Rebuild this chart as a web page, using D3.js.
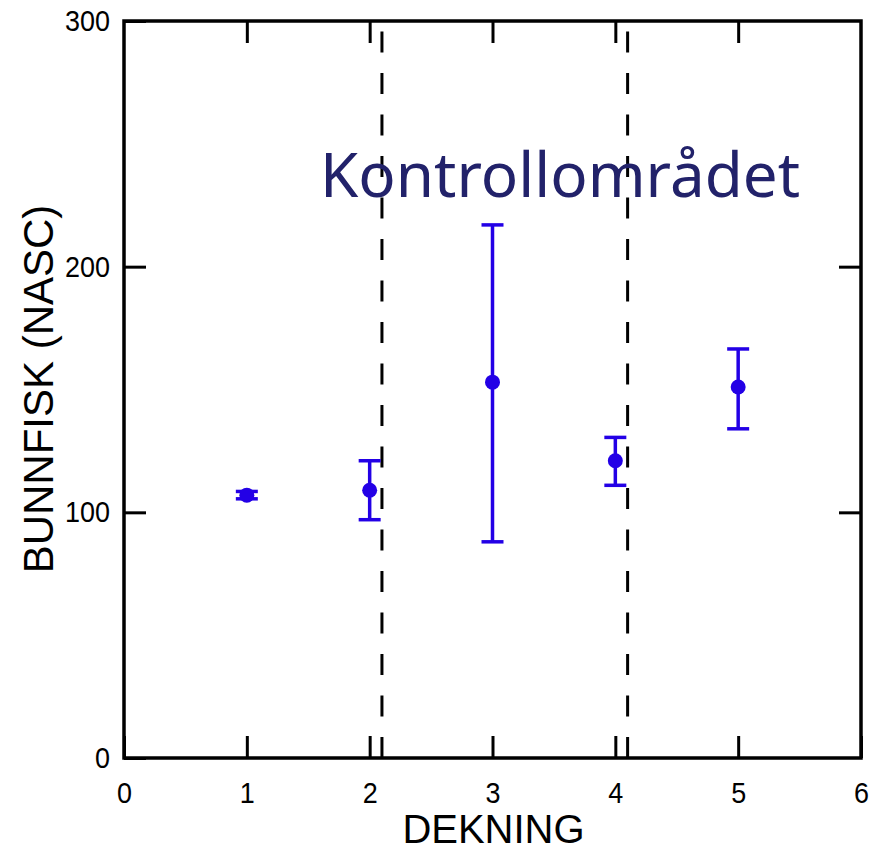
<!DOCTYPE html>
<html>
<head>
<meta charset="utf-8">
<script src="https://cdn.jsdelivr.net/npm/d3@7"></script>
<style>
  html, body { margin: 0; padding: 0; background: #fff; }
  svg { display: block; }
</style>
</head>
<body>
<svg id="chart" width="880" height="852"></svg>
<script>
// ---- data ----
const dekning   = [1, 2, 3, 4, 5];
const meanVals  = [107, 109, 153, 121, 151];
const upperVals = [108.5, 121, 217, 130.5, 166.5];
const lowerVals = [105.5, 97, 88, 111, 134];
const dividers  = [2.1, 4.1];
const xTicks    = [0, 1, 2, 3, 4, 5, 6];
const yTicks    = [0, 100, 200, 300];
const xTitle    = "DEKNING";
const yTitle    = "BUNNFISK (NASC)";
const annotation = "Kontrollområdet";

(function () {
const svg = d3.select("#chart");
const pL = 124, pR = 861, pT = 21, pB = 758;
const x = d3.scaleLinear().domain([0, 6]).range([pL, pR]);
const y = d3.scaleLinear().domain([0, 300]).range([pB, pT]);

const blue = "#2300e6";
const tickFont = "'Liberation Sans', Arial, sans-serif";

function styleTicks(g) {
  g.select(".domain").remove();
  g.selectAll(".tick line").attr("stroke", "#000").attr("stroke-width", 3);
  g.selectAll(".tick text")
    .attr("fill", "#000")
    .style("font-family", tickFont)
    .style("font-size", "30px")
    .attr("textLength", d => String(d).length * 15)
    .attr("lengthAdjust", "spacingAndGlyphs");
}

svg.append("g")
  .attr("transform", `translate(0,${pB})`)
  .call(d3.axisBottom(x).tickValues(xTicks).tickSize(-22).tickPadding(24).tickFormat(d3.format("d")))
  .call(styleTicks);
svg.append("g")
  .attr("transform", `translate(0,${pT})`)
  .call(d3.axisTop(x).tickValues(xTicks.slice(1, -1)).tickSize(-22).tickFormat(""))
  .call(styleTicks);
svg.append("g")
  .attr("transform", `translate(${pL},0)`)
  .call(d3.axisLeft(y).tickValues(yTicks).tickSize(-22).tickPadding(14).tickFormat(d3.format("d")))
  .call(styleTicks);
svg.append("g")
  .attr("transform", `translate(${pR},0)`)
  .call(d3.axisRight(y).tickValues(yTicks.slice(1, -1)).tickSize(-22).tickFormat(""))
  .call(styleTicks);

svg.append("rect")
  .attr("x", pL).attr("y", pT)
  .attr("width", pR - pL).attr("height", pB - pT)
  .attr("fill", "none").attr("stroke", "#000").attr("stroke-width", 3.5);

svg.selectAll("line.divider").data(dividers).enter().append("line")
  .attr("class", "divider")
  .attr("x1", d => x(d)).attr("x2", d => x(d))
  .attr("y1", y(0)).attr("y2", y(300))
  .attr("stroke", "#000").attr("stroke-width", 3)
  .attr("stroke-dasharray", "21,20.5");

const pts = dekning.map((d, i) => ({ x: d, m: meanVals[i], hi: upperVals[i], lo: lowerVals[i] }));
const eg = svg.append("g");
const capW = 11;
eg.selectAll("line.stem").data(pts).enter().append("line")
  .attr("x1", d => x(d.x)).attr("x2", d => x(d.x))
  .attr("y1", d => y(d.hi)).attr("y2", d => y(d.lo))
  .attr("stroke", blue).attr("stroke-width", 3.5);
eg.selectAll("line.capHi").data(pts).enter().append("line")
  .attr("x1", d => x(d.x) - capW).attr("x2", d => x(d.x) + capW)
  .attr("y1", d => y(d.hi)).attr("y2", d => y(d.hi))
  .attr("stroke", blue).attr("stroke-width", 3.5);
eg.selectAll("line.capLo").data(pts).enter().append("line")
  .attr("x1", d => x(d.x) - capW).attr("x2", d => x(d.x) + capW)
  .attr("y1", d => y(d.lo)).attr("y2", d => y(d.lo))
  .attr("stroke", blue).attr("stroke-width", 3.5);
eg.selectAll("circle").data(pts).enter().append("circle")
  .attr("cx", d => x(d.x)).attr("cy", d => y(d.m)).attr("r", 7.5)
  .attr("fill", blue);

svg.append("text")
  .attr("x", (pL + pR) / 2 + 1).attr("y", 843)
  .attr("text-anchor", "middle")
  .style("font-family", tickFont).style("font-size", "40px")
  .attr("fill", "#000")
  .text(xTitle);
svg.append("text")
  .attr("transform", `translate(53,389) rotate(-90)`)
  .attr("text-anchor", "middle")
  .style("font-family", tickFont).style("font-size", "42px")
  .attr("fill", "#000")
  .text(yTitle);

svg.append("text")
  .attr("x", 560).attr("y", 197)
  .attr("text-anchor", "middle")
  .style("font-family", "'Comic Sans MS', 'Noto Sans', sans-serif")
  .style("font-size", "62px")
  .attr("textLength", 480).attr("lengthAdjust", "spacingAndGlyphs")
  .attr("fill", "#22226a")
  .text(annotation);
})();
</script>
</body>
</html>
